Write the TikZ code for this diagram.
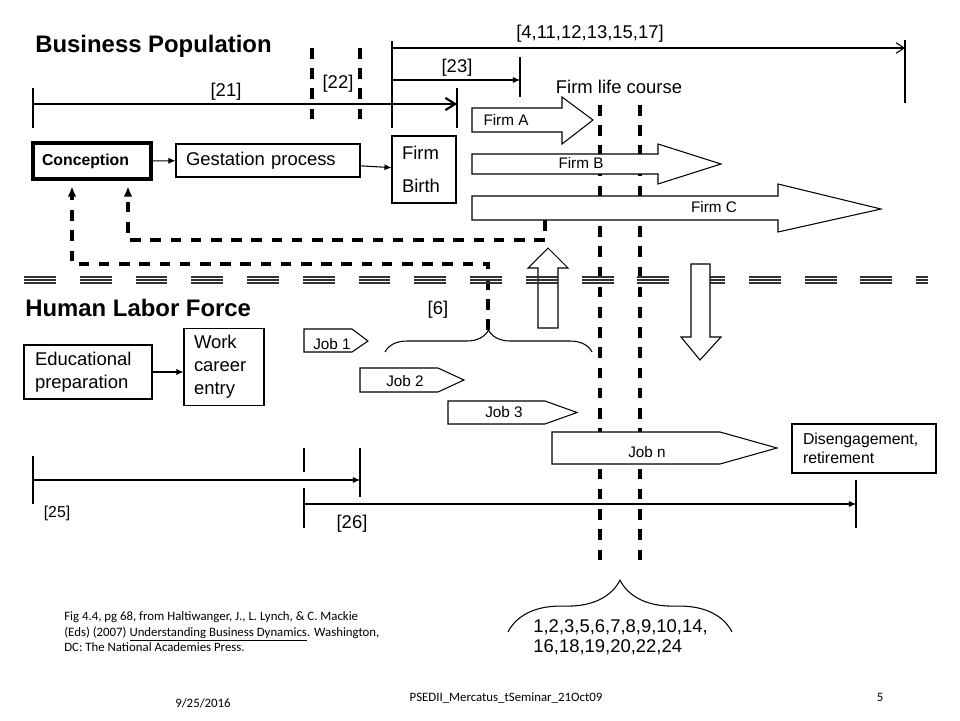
\documentclass[tikz,border=0pt]{standalone}
\usepackage{fontspec}
\setmainfont{Liberation Sans}
\newfontfamily\notefont{Carlito}
\usetikzlibrary{arrows.meta,decorations.pathreplacing}

\begin{document}
\begin{tikzpicture}[x=0.02cm,y=-0.02cm,>={Latex[length=4pt,width=3.5pt]},
  font=\fontsize{10.5}{12.6}\selectfont,
  box node/.style={draw,line width=0.6pt,align=left,inner sep=0pt},
  head node/.style={font=\fontsize{13.6}{16}\selectfont\bfseries,anchor=base west,inner sep=0pt},
  label node/.style={anchor=base,inner sep=0pt},
  small node/.style={font=\fontsize{8.7}{10}\selectfont,anchor=base,inner sep=0pt},
  note node/.style={font=\notefont\fontsize{7.3}{9}\selectfont,inner sep=0pt},
  block arrow/.style={draw,line width=0.6pt,fill=white},
  fat dash/.style={line width=1.8pt,dash pattern=on 6pt off 5.5pt},
  sep line/.style={line width=0.8pt,black!80,dash pattern=on 18.14pt off 13.6pt},
  tick/.style={line width=0.6pt}]

  \useasboundingbox[fill=white] (0,0) rectangle (960,720);

  % section titles
  \node[head node] (bp) at (35,52) {Business Population};
  \node[head node] (hlf) at (25,316) {Human Labor Force};

  % business timelines
  \coordinate (t21a) at (33,104);
  \coordinate (t21b) at (457,104);
  \coordinate (t23a) at (392,80);
  \coordinate (t23b) at (520,80);
  \coordinate (t4a) at (392,48);
  \coordinate (t4b) at (905,48);
  \draw[tick] (33,88) -- (33,128) (457,88) -- (457,128);
  \draw[tick] (392,41) -- (392,128) (520,57) -- (520,97) (905,40) -- (905,103);
  \draw[line width=1.2pt,-{Straight Barb[length=5.5pt,width=7pt]}] (t21a) -- (t21b);
  \draw[tick,->] (t23a) -- (t23b);
  \draw[tick,-{Straight Barb[length=4.5pt,width=6pt]}] (t4a) -- (t4b);
  \node[label node] (l21) at (226,96) {[21]};
  \node[label node] (l22) at (338,88) {[22]};
  \node[label node] (l23) at (457,72) {[23]};
  \node[label node] (l4) at (590,38) {[4,11,12,13,15,17]};
  \node[label node] (life) at (619,93) {Firm life course};
  \draw[fat dash] (312,48) -- (312,123) (360,48) -- (360,123);

  % life course lines
  \draw[fat dash] (600,105) -- (600,560) (640,105) -- (640,560);

  % business boxes
  \node[box node,line width=2.2pt,minimum width=2.36cm,minimum height=0.72cm,text width=2cm,
    font=\fontsize{9}{11}\selectfont\bfseries] (concept) at (92,161) {Conception};
  \node[box node,minimum width=3.68cm,minimum height=0.66cm,text width=3.28cm] (gest) at (268,160.5) {Gestation process};
  \node[box node,minimum width=1.28cm,minimum height=1.34cm,text width=0.88cm,
    font=\fontsize{10.5}{18.7}\selectfont] (birth) at (424,169.5) {Firm\\Birth};
  \path[->,line width=0.6pt]
    (concept) edge (gest)
    (gest) edge (birth);

  % firms
  \draw[block arrow] (472,108) -- (562,108) -- (562,97) -- (593,120) -- (562,144) -- (562,132) -- (472,132) -- cycle;
  \draw[block arrow] (472,154) -- (658,154) -- (658,144) -- (721,164) -- (658,184) -- (658,174) -- (472,174) -- cycle;
  \draw[block arrow] (472,196) -- (778,196) -- (778,184) -- (881,209) -- (778,232) -- (778,220) -- (472,220) -- cycle;
  \node[small node] (fa) at (506,125) {Firm A};
  \node[small node] (fb) at (581,168) {Firm B};
  \node[small node] (fc) at (714,212) {Firm C};

  % feedback to conception
  \coordinate (fb1) at (545,220);
  \coordinate (b6) at (488,330);
  \draw[fat dash,-{Latex[length=6pt,width=5pt]}] (fb1) -- (545,240) -| ([xshift=0.72cm,yshift=-3pt]concept.south);
  \draw[fat dash,-{Latex[length=6pt,width=5pt]}] (b6) -- (488,264) -| ([xshift=-0.4cm,yshift=-3pt]concept.south);

  % separator
  \draw[block arrow] (538,328) -- (538,268) -- (528,268) -- (548,248) -- (568,268) -- (558,268) -- (558,328) -- cycle;
  \foreach \yy in {277,280,283}
    \draw[sep line] (24,\yy) -- (928,\yy);
  \draw[block arrow] (691,264) -- (710,264) -- (710,337) -- (721,337) -- (700,360) -- (681,337) -- (691,337) -- cycle;

  % labor boxes
  \node[box node,minimum width=2.56cm,minimum height=1.08cm,text width=2.12cm,
    font=\fontsize{10.5}{13}\selectfont] (edu) at (88,372) {Educational\\preparation};
  \node[box node,minimum width=1.6cm,minimum height=1.54cm,text width=1.2cm,
    font=\fontsize{10.5}{13}\selectfont] (work) at (224,367) {Work\\career\\entry};
  \node[box node,minimum width=2.88cm,minimum height=0.98cm,text width=2.44cm,
    font=\fontsize{9}{10.8}\selectfont] (retire) at (864,448.5) {Disengagement,\\retirement};
  \path[->,line width=0.6pt] (edu.east) edge (edu.east -| work.west);

  % jobs
  \draw[block arrow] (304,329) -- (352,329) -- (368,341) -- (352,352) -- (304,352) -- cycle;
  \draw[block arrow] (360,368) -- (438,368) -- (464,380) -- (438,392) -- (360,392) -- cycle;
  \draw[block arrow] (448,401) -- (545,401) -- (577,412.5) -- (545,424) -- (448,424) -- cycle;
  \draw[block arrow] (552,432) -- (720,432) -- (777,448) -- (720,464) -- (552,464) -- cycle;
  \node[small node] (j1) at (332,349) {Job 1};
  \node[small node] (j2) at (405,386) {Job 2};
  \node[small node] (j3) at (504,417) {Job 3};
  \node[small node] (jn) at (647,457) {Job n};

  \draw[tick,decorate,decoration={brace,amplitude=12.5pt}] (385,352) -- (592,352);
  \node[label node] (l6) at (438,314) {[6]};

  % labor timelines
  \coordinate (t25a) at (33,480);
  \coordinate (t25b) at (360,480);
  \coordinate (t26a) at (304,504);
  \coordinate (t26b) at (856,504);
  \draw[tick] (33,456) -- (33,504) (360,448) -- (360,497);
  \draw[tick] (304,448) -- (304,472) (304,488) -- (304,528) (856,480) -- (856,528);
  \draw[tick,->] (t25a) -- (t25b);
  \draw[tick,->] (t26a) -- (t26b);
  \node[small node,font=\fontsize{9}{11}\selectfont] (l25) at (57,517) {[25]};
  \node[label node] (l26) at (352,528) {[26]};

  % studies list
  \draw[tick,decorate,decoration={brace,amplitude=29.5pt}] (508,632) -- (732,632);
  \node[align=left,anchor=north west,inner sep=0pt,font=\fontsize{10.5}{11.3}\selectfont] (list) at (533,619)
    {1,2,3,5,6,7,8,9,10,14,\\16,18,19,20,22,24};

  % notes
  \node[note node,align=left,anchor=north west] (src) at (64,611)
    {Fig 4.4, pg 68, from Haltiwanger, J., L. Lynch, \& C. Mackie\\
     (Eds) (2007) \underline{Understanding Business Dynamics}. Washington,\\
     DC: The National Academies Press.};
  \node[note node] (date) at (203,703) {9/25/2016};
  \node[note node] (foot) at (506,698) {PSEDII\_Mercatus\_tSeminar\_21Oct09};
  \node[note node] (page) at (880,697) {5};
\end{tikzpicture}
\end{document}
